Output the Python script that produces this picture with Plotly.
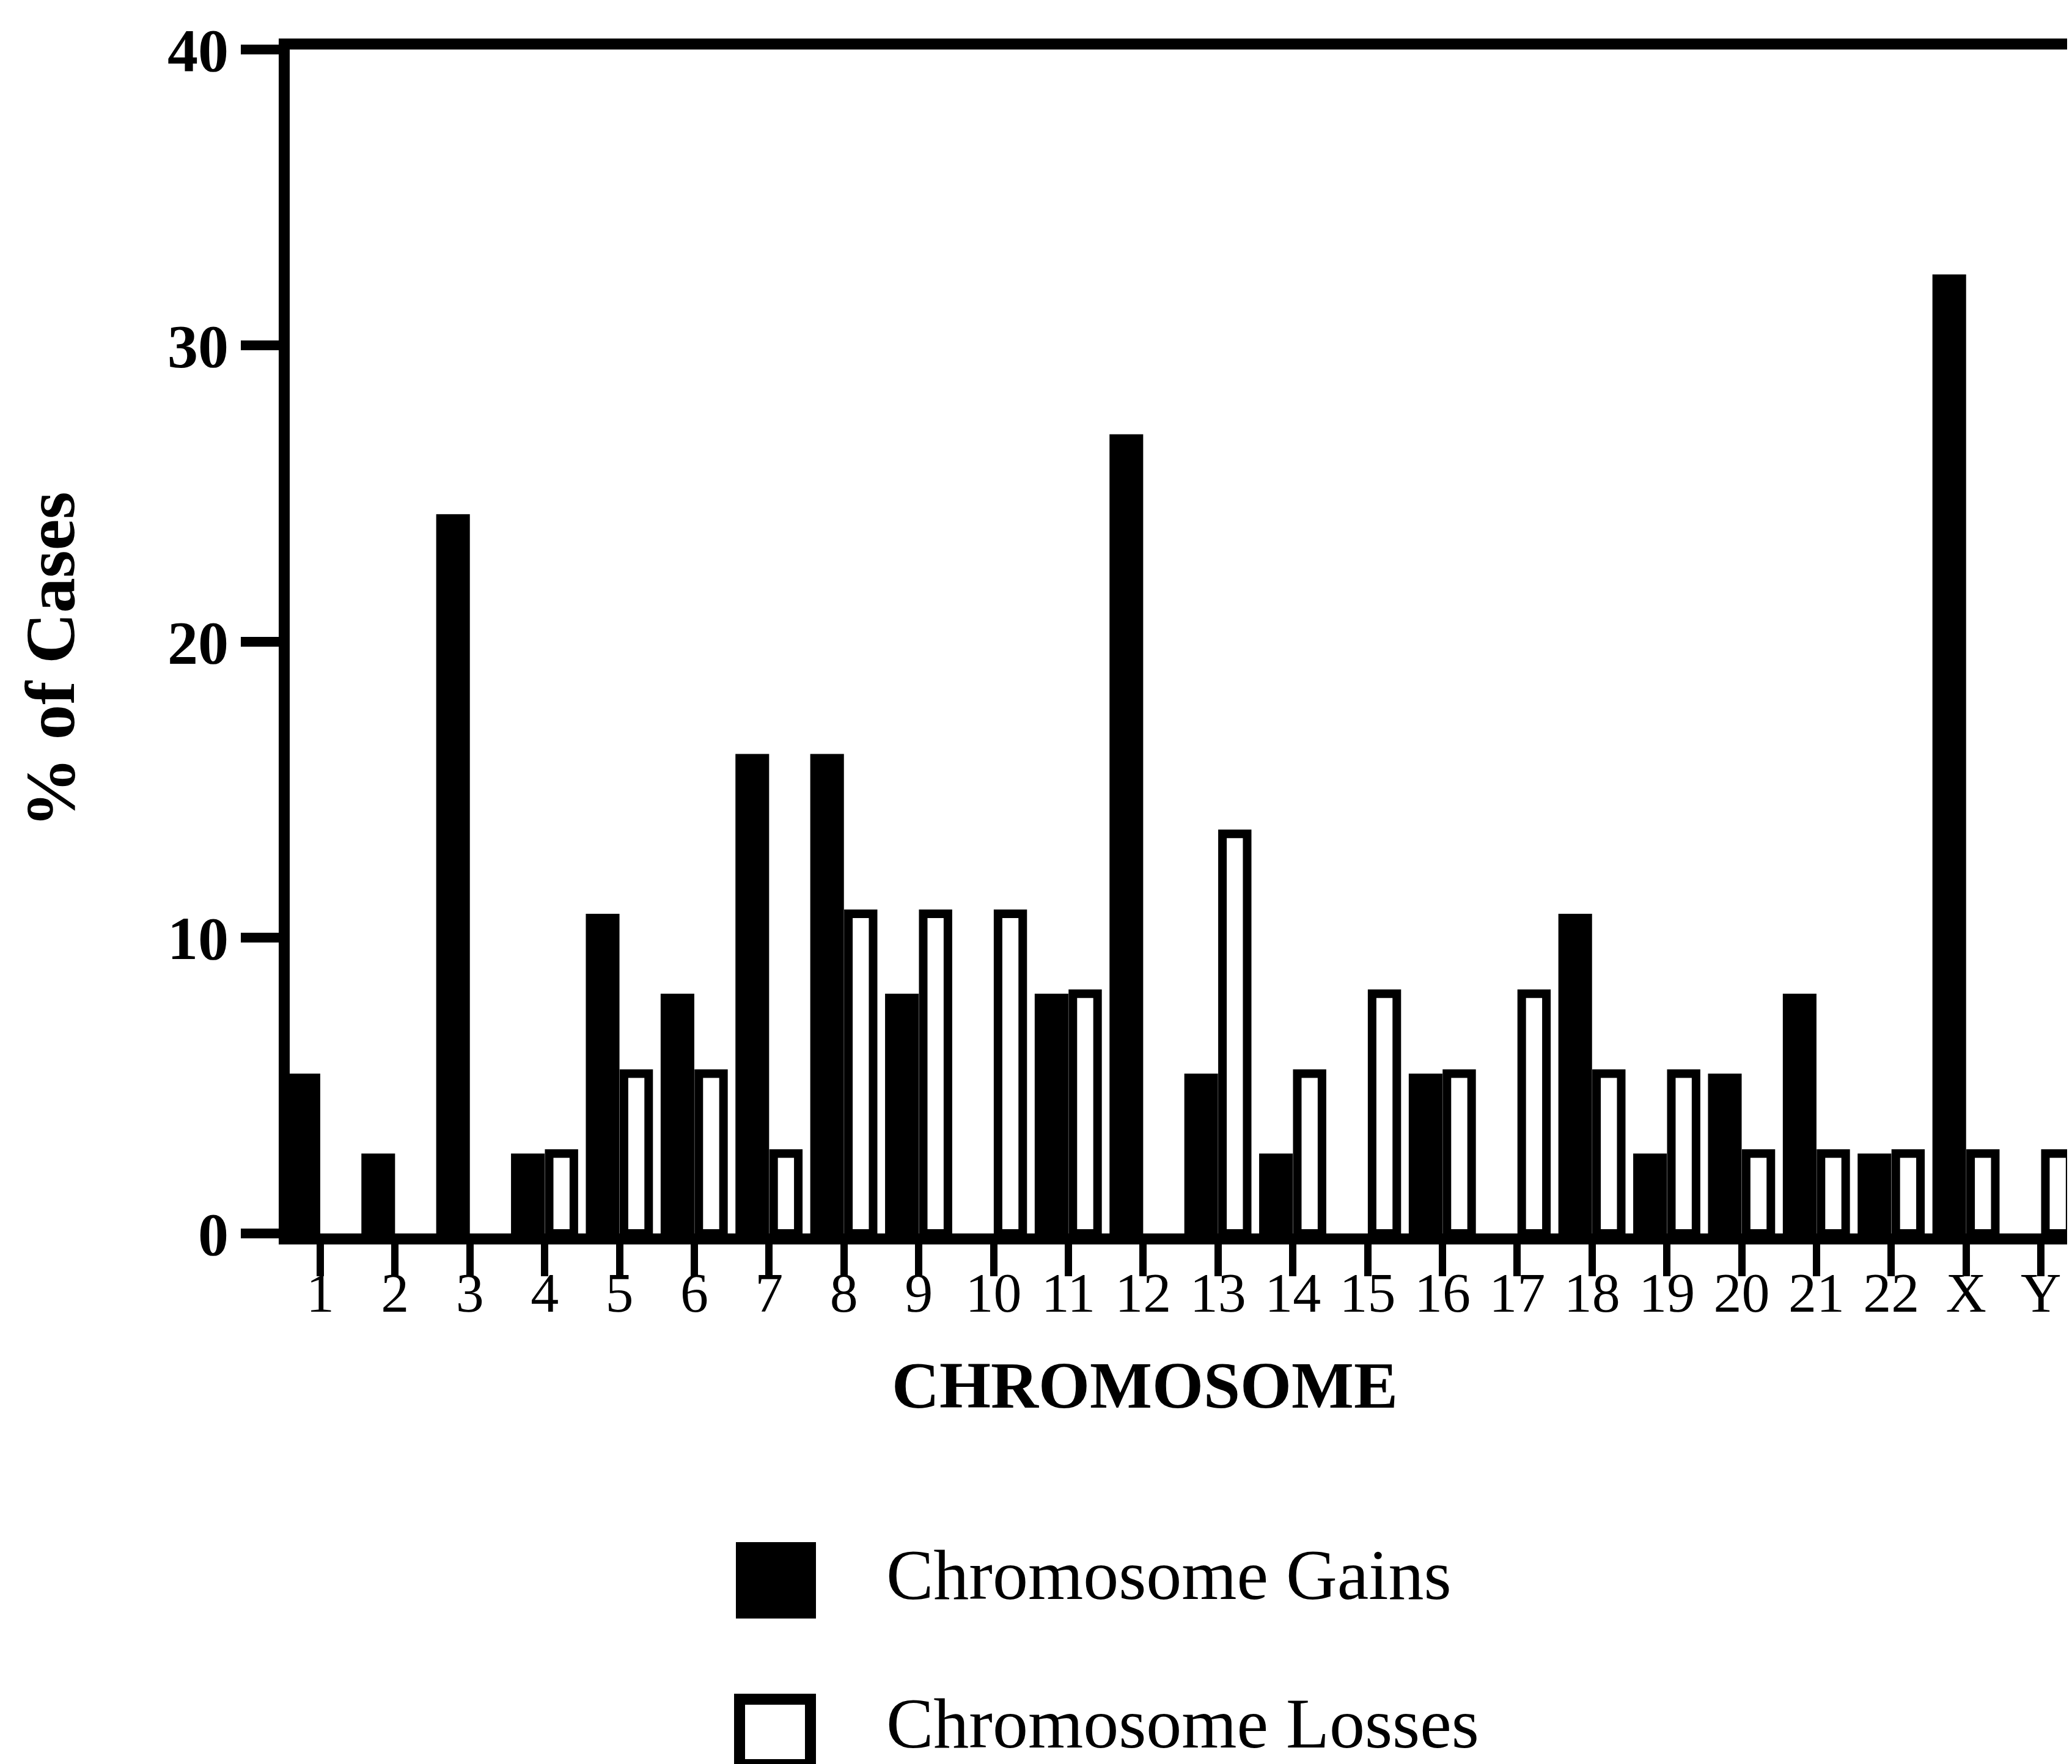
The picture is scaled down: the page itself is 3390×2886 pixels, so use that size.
import plotly.graph_objects as go

# ---- data ----
chromosomes = ["1", "2", "3", "4", "5", "6", "7", "8", "9", "10", "11", "12",
               "13", "14", "15", "16", "17", "18", "19", "20", "21", "22", "X", "Y"]
gains = [5.4, 2.7, 24.3, 2.7, 10.8, 8.1, 16.2, 16.2, 8.1, 0, 8.1, 27.0,
         5.4, 2.7, 0, 5.4, 0, 10.8, 2.7, 5.4, 8.1, 2.7, 32.4, 0]
losses = [0, 0, 0, 2.7, 5.4, 5.4, 2.7, 10.8, 10.8, 10.8, 8.1, 0,
          13.5, 5.4, 8.1, 5.4, 8.1, 5.4, 5.4, 2.7, 2.7, 2.7, 2.7, 2.7]
y_ticks = [0, 10, 20, 30, 40]

W, H = 3390, 2886
ML, MR, MT, MB = 466, 0, 73, 876
PW = W - ML - MR
PH = H - MT - MB
CAT_PX = 122.4

def px_x(p):
    return (p - ML) / PW

def px_y(p):
    return (H - MB - p) / PH

def nz(vals):
    # zero-height bars are not drawn
    return [v if v else None for v in vals]

xpos = list(range(len(chromosomes)))
SERIF = "Liberation Serif"

fig = go.Figure()
fig.add_trace(go.Bar(
    x=xpos, y=nz(gains), name="Chromosome Gains",
    width=0.45, offset=-0.45,
    marker=dict(color="black", line=dict(color="black", width=0)),
    showlegend=False,
))
fig.add_trace(go.Bar(
    x=xpos, y=nz(losses), name="Chromosome Losses",
    width=0.33, offset=0.06,
    marker=dict(color="white", line=dict(color="black", width=14)),
    showlegend=False,
))

fig.update_layout(
    width=W, height=H,
    margin=dict(l=ML, r=MR, t=MT, b=MB, pad=0),
    paper_bgcolor="white", plot_bgcolor="white",
    barmode="overlay",
    font=dict(family=SERIF, color="black"),
)

fig.update_xaxes(
    range=[-0.408, -0.408 + PW / CAT_PX],
    tickmode="array", tickvals=xpos, ticktext=chromosomes,
    showline=True, linecolor="black", linewidth=18, mirror=True,
    ticks="outside", ticklen=52, tickwidth=12, tickcolor="black",
    tickfont=dict(family=SERIF, size=92, color="black"),
    ticklabelstandoff=-52,
    showgrid=False, zeroline=False,
)
fig.update_yaxes(
    range=[0, 40],
    tickmode="array", tickvals=y_ticks, ticktext=[str(v) for v in y_ticks],
    showline=True, linecolor="black", linewidth=18, mirror=False,
    ticks="outside", ticklen=62, tickwidth=16, tickcolor="black",
    tickfont=dict(family=SERIF, size=100, color="black", weight="bold"),
    showgrid=False, zeroline=False,
)

annotations = [
    dict(text="<b>% of Cases</b>", textangle=-90,
         x=px_x(74), y=px_y(1072), xref="paper", yref="paper",
         xanchor="center", yanchor="middle", showarrow=False,
         font=dict(family=SERIF, size=115, color="black")),
    dict(text="<b>CHROMOSOME</b>",
         x=px_x(1865), y=px_y(2258), xref="paper", yref="paper",
         xanchor="center", yanchor="middle", showarrow=False,
         font=dict(family=SERIF, size=108, color="black")),
    dict(text="Chromosome Gains",
         x=px_x(1440), y=px_y(2569), xref="paper", yref="paper",
         xanchor="left", yanchor="middle", showarrow=False,
         font=dict(family=SERIF, size=116, color="black")),
    dict(text="Chromosome Losses",
         x=px_x(1440), y=px_y(2812), xref="paper", yref="paper",
         xanchor="left", yanchor="middle", showarrow=False,
         font=dict(family=SERIF, size=116, color="black")),
]
fig.update_layout(annotations=annotations)

shapes = [
    dict(type="rect", xref="paper", yref="paper",
         x0=px_x(1196), x1=px_x(1327), y0=px_y(2515), y1=px_y(2640),
         fillcolor="black", line=dict(color="black", width=0)),
    dict(type="rect", xref="paper", yref="paper",
         x0=px_x(1202), x1=px_x(1318), y0=px_y(2772), y1=px_y(2879),
         fillcolor="white", line=dict(color="black", width=18)),
]
fig.update_layout(shapes=shapes)

fig.write_html("out.html")
